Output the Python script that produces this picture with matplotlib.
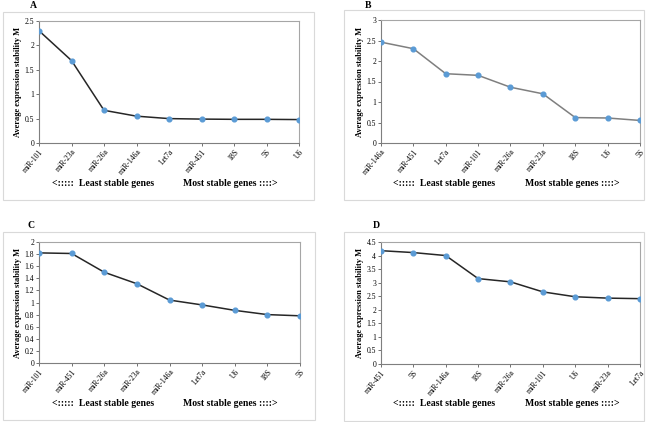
import matplotlib.pyplot as plt
from matplotlib.patches import Rectangle

# gene order (least -> most stable) and average expression stability M
genes_a = ['miR-101', 'miR-23a', 'miR-26a', 'miR-146a', 'Let7a', 'miR-451', '18S', '5S', 'U6']
m_a = [2.30, 1.69, 0.67, 0.55, 0.50, 0.49, 0.485, 0.485, 0.48]

genes_b = ['miR-146a', 'miR-451', 'Let7a', 'miR-101', 'miR-26a', 'miR-23a', '18S', 'U6', '5S']
m_b = [2.46, 2.30, 1.69, 1.65, 1.36, 1.20, 0.62, 0.61, 0.55]

genes_c = ['miR-101', 'miR-451', 'miR-26a', 'miR-23a', 'miR-146a', 'Let7a', 'U6', '18S', '5S']
m_c = [1.82, 1.81, 1.50, 1.31, 1.04, 0.96, 0.87, 0.80, 0.78]

genes_d = ['miR-451', '5S', 'miR-146a', '18S', 'miR-26a', 'miR-101', 'U6', 'miR-23a', 'Let7a']
m_d = [4.18, 4.11, 4.00, 3.15, 3.03, 2.66, 2.48, 2.43, 2.41]

W, H = 658, 422
plt.rcParams['font.family'] = ['Liberation Serif', 'DejaVu Serif']

fig = plt.figure(figsize=(W / 100, H / 100), dpi=100)


def px(x0, y0, x1, y1):
    # pixel box (top-left origin) -> figure fraction [l, b, w, h]
    return [x0 / W, 1 - y1 / H, (x1 - x0) / W, (y1 - y0) / H]


def panel(letter, genes, vals, ymax, ystep, fmt, ax_box, frame_box, letter_xy,
          txt_y, least_x, most_x, line_col):
    l, b, w, h = px(*frame_box)
    fig.patches.append(Rectangle((l, b), w, h, transform=fig.transFigure,
                                 fill=False, edgecolor='#d9d9d9', linewidth=0.8))
    ax = fig.add_axes(px(*ax_box))
    x = list(range(len(genes)))
    ax.plot(x, vals, color=line_col, linewidth=1.1, zorder=2)
    ax.plot(x, vals, linestyle='none', marker='o', markersize=3.4,
            color='#5b9bd5', zorder=3)
    ax.set_xlim(0, len(genes) - 1)
    ax.set_ylim(0, ymax)
    n = int(round(ymax / ystep))
    ticks = [i * ystep for i in range(n + 1)]
    ax.set_yticks(ticks)
    ax.set_yticklabels([fmt(t) for t in ticks], fontsize=5.5)
    ax.set_xticks(x)
    ax.set_xticklabels(genes, fontsize=5.5, rotation=50, ha='right',
                       va='top', rotation_mode='anchor')
    ax.tick_params(axis='both', direction='out', length=2, width=0.6,
                   color='#595959', pad=1.5)
    for s in ['left', 'bottom']:
        ax.spines[s].set_color('#7f7f7f')
        ax.spines[s].set_linewidth(0.8)
    for s in ['top', 'right']:
        ax.spines[s].set_color('#a6a6a6')
        ax.spines[s].set_linewidth(0.8)
    ax.set_ylabel('Average expression stability M', fontsize=6,
                  fontweight='bold', labelpad=2)
    fig.text(letter_xy[0] / W, 1 - letter_xy[1] / H, letter, fontsize=7,
             fontweight='bold', ha='center', va='center')
    fig.text(least_x / W, 1 - txt_y / H, '<:::::  Least stable genes',
             fontsize=7, fontweight='bold', ha='left', va='center')
    fig.text(most_x / W, 1 - txt_y / H, 'Most stable genes ::::>',
             fontsize=7, fontweight='bold', ha='left', va='center')
    return ax


def f1(t):
    return '%g' % round(t, 2)


panel('A', genes_a, m_a, 2.5, 0.5, f1, (39, 21, 299, 143), (3, 12, 314, 200),
      (33, 5), 183, 52, 183, '#262626')
panel('B', genes_b, m_b, 3.0, 0.5, f1, (381, 20, 640, 143), (344, 10, 644, 200),
      (368, 5), 183, 393, 525, '#7f7f7f')
panel('C', genes_c, m_c, 2.0, 0.2, f1, (39, 242, 300, 363), (3, 232, 315, 420),
      (31, 225), 404, 52, 183, '#262626')
panel('D', genes_d, m_d, 4.5, 0.5, f1, (381, 242, 640, 364), (344, 232, 644, 421),
      (376, 226), 404, 393, 525, '#262626')

fig.savefig('out.png', dpi=100)
